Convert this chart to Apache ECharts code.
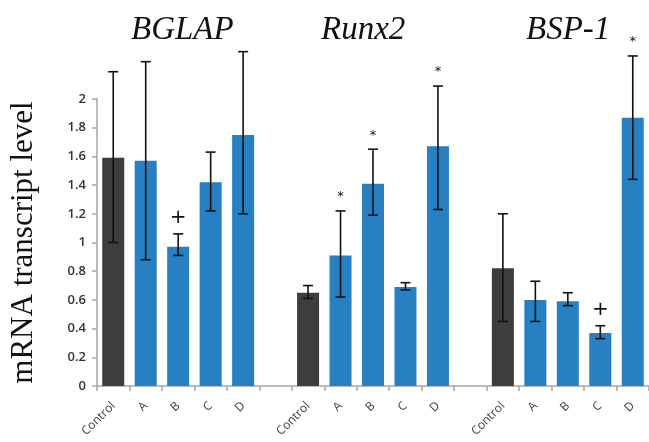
<!DOCTYPE html>
<html>
<head>
<meta charset="utf-8">
<script src="https://cdn.jsdelivr.net/npm/echarts@6/dist/echarts.min.js"></script>
<style>
html,body{margin:0;padding:0;background:#fff;}
#chart{width:649px;height:442px;}
</style>
</head>
<body>
<div id="chart"></div>
<script>
// Data
var categories = ['Control','A','B','C','D','', 'Control','A','B','C','D','', 'Control','A','B','C','D'];
var means    = [1.59, 1.57, 0.97, 1.42, 1.75, null, 0.65, 0.91, 1.41, 0.69, 1.67, null, 0.82, 0.60, 0.59, 0.37, 1.87];
var errLow   = [1.00, 0.88, 0.91, 1.22, 1.20, null, 0.61, 0.62, 1.19, 0.67, 1.23, null, 0.45, 0.45, 0.56, 0.33, 1.44];
var errHigh  = [2.19, 2.26, 1.06, 1.63, 2.33, null, 0.70, 1.22, 1.65, 0.72, 2.09, null, 1.20, 0.73, 0.65, 0.42, 2.30];
var marks    = ['', '', '+', '', '', '', '', '*', '*', '', '*', '', '', '', '', '+', '*'];
var geneNames = ['BGLAP', 'Runx2', 'BSP-1'];

var chart = echarts.init(document.getElementById('chart'));

var errData = categories.map(function (c, i) {
  return [i, errLow[i], errHigh[i], marks[i]];
}).filter(function (d) { return d[1] != null; });

var titleLeft = [126, 316, 521];

var option = {
  animation: false,
  title: geneNames.map(function (g, i) {
    return {
      text: g, left: titleLeft[i], top: 9,
      textStyle: { fontFamily: 'Liberation Serif', fontStyle: 'italic', fontWeight: 'normal', fontSize: 33, color: '#111' }
    };
  }),
  grid: { left: 87, top: 99, width: 566, height: 287, containLabel: false },
  xAxis: {
    type: 'category',
    data: categories,
    axisLine: { lineStyle: { color: '#a6a6a6', width: 1.5 } },
    axisTick: { show: true, length: 5, lineStyle: { color: '#a6a6a6', width: 1.5 } },
    axisLabel: { rotate: 45, margin: 18, fontFamily: 'Open Sans', fontSize: 12, color: '#404040', interval: 0 }
  },
  yAxis: {
    type: 'value', min: 0, max: 2, interval: 0.2,
    name: 'mRNA transcript level', nameLocation: 'middle', nameGap: 58,
    nameTextStyle: { fontFamily: 'Liberation Serif', fontSize: 31, color: '#111' },
    axisLine: { show: true, lineStyle: { color: '#a6a6a6', width: 1.5 } },
    axisTick: { show: true, length: 5, lineStyle: { color: '#a6a6a6', width: 1.5 } },
    splitLine: { show: false },
    axisLabel: {
      margin: 11, fontFamily: 'Open Sans', fontSize: 13, fontWeight: 600, color: '#333',
      formatter: function (v) { return String(+v.toFixed(1)); }
    }
  },
  series: [
    {
      type: 'bar',
      data: means,
      barWidth: 22,
      itemStyle: {
        color: function (p) { return categories[p.dataIndex] === 'Control' ? '#3d3d3d' : '#2680c2'; }
      }
    },
    {
      type: 'custom',
      clip: false,
      z: 5,
      data: errData,
      encode: { x: 0, y: [1, 2] },
      renderItem: function (params, api) {
        var idx = api.value(0);
        var lo = api.coord([idx, api.value(1)]);
        var hi = api.coord([idx, api.value(2)]);
        var half = 5;
        var style = { stroke: '#111', lineWidth: 1.6 };
        var children = [
          { type: 'line', shape: { x1: hi[0], y1: hi[1], x2: lo[0], y2: lo[1] }, style: style },
          { type: 'line', shape: { x1: hi[0] - half, y1: hi[1], x2: hi[0] + half, y2: hi[1] }, style: style },
          { type: 'line', shape: { x1: lo[0] - half, y1: lo[1], x2: lo[0] + half, y2: lo[1] }, style: style }
        ];
        var m = marks[idx];
        if (m) {
          children.push({
            type: 'text',
            style: {
              text: m, x: hi[0], y: hi[1] - (m === '+' ? 16 : 14),
              align: 'center', verticalAlign: 'middle',
              fontFamily: 'DejaVu Sans', fontSize: m === '+' ? 20 : 13, fill: '#111'
            }
          });
        }
        return { type: 'group', children: children };
      }
    }
  ]
};
chart.setOption(option);
</script>
</body>
</html>
